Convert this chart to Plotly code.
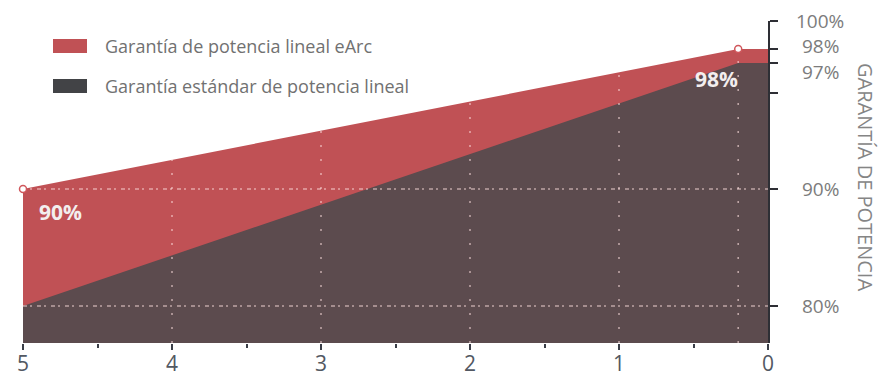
import numpy as np
import plotly.graph_objects as go

# ---------------- data ----------------
YEARS = [5, 0.2, 0]
EARC_PCT = [90, 98, 98]          # Garantía de potencia lineal eArc
STANDARD_PCT = [80, 97, 97]      # Garantía estándar de potencia lineal
POINT_YEARS = [5, 0.2]
POINT_PCT = [90, 98]
POINT_LABELS = ["90%", "98%"]
X_TICKS = [5, 4, 3, 2, 1, 0]
X_TICK_LABELS = ["5", "4", "3", "2", "1", "0"]
Y_TICK_PCT = [100, 98, 97, 95, 90, 80]
Y_LABEL_PCT = [100, 98, 97, 90, 80]
Y_LABELS = ["100%", "98%", "97%", "90%", "80%"]
GRID_YEARS = [4, 3, 2, 1, 0.2]
GRID_PCT = [80, 90]
SERIES_NAMES = ["Garantía de potencia lineal eArc", "Garantía estándar de potencia lineal"]
AXIS_TITLE = "GARANTÍA DE POTENCIA"

# schematic (piecewise-linear) percentage scale of the original chart
SCALE_PCT = [76.84, 80, 90, 95, 97, 98, 100]
SCALE_POS = [0, 37, 154, 250, 280, 294, 322]


def warp(p):
    return np.interp(np.asarray(p, dtype=float), SCALE_PCT, SCALE_POS)


# ---------------- layout geometry (pixels) ----------------
W, H = 880, 380
ML, MR, MT, MB = 23, 112, 21, 37
PW, PH = W - ML - MR, H - MT - MB


def px_x(x):
    return (x - ML) / PW


def px_y(y):
    return (H - MB - y) / PH


RED = "#c05155"
DARK = "#5c4b4e"
GRID_COL = "rgba(255,225,225,0.6)"
FONT = "Open Sans"

fig = go.Figure()

fig.add_trace(go.Scatter(x=YEARS, y=warp(EARC_PCT), mode="lines", fill="tozeroy",
                         fillcolor=RED, line=dict(width=0, color=RED),
                         name=SERIES_NAMES[0], showlegend=False, hoverinfo="skip"))
fig.add_trace(go.Scatter(x=YEARS, y=warp(STANDARD_PCT), mode="lines", fill="tozeroy",
                         fillcolor=DARK, line=dict(width=0, color=DARK),
                         name=SERIES_NAMES[1], showlegend=False, hoverinfo="skip"))

# dotted grid over the filled areas
red_sorted_x = YEARS[::-1]
red_sorted_y = EARC_PCT[::-1]
gx, gy = [], []
for yr in GRID_YEARS:
    top = np.interp(yr, red_sorted_x, red_sorted_y)
    gx += [yr, yr, None]
    gy += [0, float(warp(top)), None]
fig.add_trace(go.Scatter(x=gx, y=gy, mode="lines", showlegend=False, hoverinfo="skip",
                         line=dict(color=GRID_COL, width=1.6, dash="2px,12px")))
hx, hy = [], []
for p in GRID_PCT:
    hx += [X_TICKS[0], X_TICKS[-1], None]
    hy += [float(warp(p)), float(warp(p)), None]
fig.add_trace(go.Scatter(x=hx, y=hy, mode="lines", showlegend=False, hoverinfo="skip",
                         line=dict(color=GRID_COL, width=1.6, dash="4px,3px,2px,5px")))

fig.add_trace(go.Scatter(x=POINT_YEARS, y=warp(POINT_PCT), mode="markers", showlegend=False,
                         hoverinfo="skip", cliponaxis=False,
                         marker=dict(size=7, color="white", line=dict(color="#d0575c", width=1.5))))

annotations = []
# point labels
annotations.append(dict(x=POINT_YEARS[0], y=float(warp(POINT_PCT[0])), xref="x", yref="y",
                        text=POINT_LABELS[0], showarrow=False, xanchor="left", yanchor="middle",
                        xshift=14, yshift=-23,
                        font=dict(family=FONT, size=21, color="#f3eeee", weight="bold")))
annotations.append(dict(x=POINT_YEARS[1], y=float(warp(POINT_PCT[1])), xref="x", yref="y",
                        text=POINT_LABELS[1], showarrow=False, xanchor="right", yanchor="middle",
                        xshift=2, yshift=-30,
                        font=dict(family=FONT, size=21, color="#f3eeee", weight="bold")))
# y labels (spread apart like the original)
label_shift = {98: 3, 97: -9}
for p, t in zip(Y_LABEL_PCT, Y_LABELS):
    annotations.append(dict(x=px_x(820), y=float(warp(p)), xref="paper", yref="y", text=t,
                            showarrow=False, xanchor="center", yanchor="middle",
                            yshift=label_shift.get(p, 0),
                            font=dict(family=FONT, size=19, color="#7c7c7c")))
# axis title (vertical, reading top to bottom)
annotations.append(dict(x=px_x(866), y=px_y(177), xref="paper", yref="paper", text=AXIS_TITLE,
                        textangle=90, showarrow=False, xanchor="center", yanchor="middle",
                        font=dict(family=FONT, size=20, color="#858585")))

# legend
shapes = []
legend_cols = [RED, "#424346"]
legend_rows = [46, 86]
for name, col, yc in zip(SERIES_NAMES, legend_cols, legend_rows):
    shapes.append(dict(type="rect", xref="paper", yref="paper",
                       x0=px_x(53), x1=px_x(87), y0=px_y(yc - 7), y1=px_y(yc + 7),
                       fillcolor=col, line=dict(width=0)))
    annotations.append(dict(x=px_x(103), y=px_y(yc), xref="paper", yref="paper", text=name,
                            showarrow=False, xanchor="left", yanchor="middle",
                            font=dict(family=FONT, size=18, color="#717171")))

fig.update_layout(
    width=W, height=H,
    margin=dict(l=ML, r=MR, t=MT, b=MB, pad=0, autoexpand=False),
    paper_bgcolor="white", plot_bgcolor="white",
    showlegend=False,
    annotations=annotations,
    shapes=shapes,
    xaxis=dict(range=[5, 0], tickmode="array", tickvals=X_TICKS, ticktext=X_TICK_LABELS,
               automargin=False,
               showgrid=False, zeroline=False, showline=False,
               ticks="outside", ticklen=6, tickwidth=2, tickcolor="#3a3e47",
               tickfont=dict(family=FONT, size=21, color="#525862"),
               ticklabelstandoff=-4,
               minor=dict(dtick=0.5, tick0=0, ticks="outside", ticklen=4, tickwidth=2,
                          tickcolor="#3a3e47", showgrid=False)),
    yaxis=dict(range=[0, 322], side="right", tickmode="array", tickvals=warp(Y_TICK_PCT).tolist(),
               automargin=False,
               showticklabels=False, showgrid=False, zeroline=False,
               showline=True, linewidth=2, linecolor="#2e2f35",
               ticks="outside", ticklen=8, tickwidth=2, tickcolor="#2e2f35"),
)

fig.write_html("out.html")
